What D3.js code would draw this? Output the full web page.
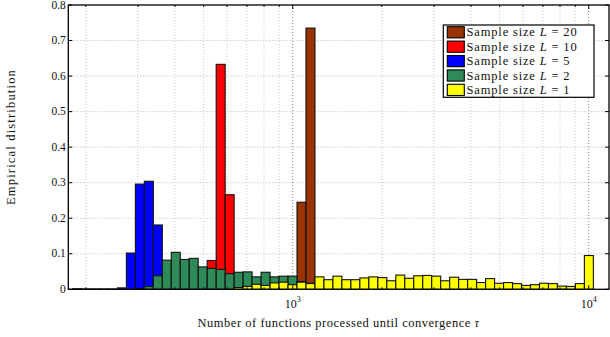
<!DOCTYPE html>
<html><head><meta charset="utf-8">
<script src="https://cdn.jsdelivr.net/npm/d3@7"></script>
<style>
body{margin:0;background:#fff;}
svg{display:block;}
text{font-family:"Liberation Serif","DejaVu Serif",serif;}
</style>
</head><body>
<svg id="chart" width="610" height="337"></svg>
<script>
// ---- data ----
// histogram bins: equal width in log10 space
const binFirstEdge = 180.3;
const binLogWidth = 0.03034;

const sampleSizes = [20, 10, 5, 2, 1];
const seriesColors = ["#993300", "#ff0000", "#0000ff", "#2e8b57", "#ffff00"];

const valsL20 = [
  0,0,0,0,0,0,0,0,0,0,
  0,0,0,0,0,0,0,0,0,0,
  0,0,0,0,0,0.245,0.735,0,0,0,
  0,0,0,0,0,0,0,0,0,0,
  0,0,0,0,0,0,0,0,0,0,
  0,0,0,0,0,0,0,0];
const valsL10 = [
  0,0,0,0,0,0,0,0,0,0,
  0,0,0,0,0,0.081,0.633,0.266,0,0,
  0,0,0,0,0,0,0,0,0,0,
  0,0,0,0,0,0,0,0,0,0,
  0,0,0,0,0,0,0,0,0,0,
  0,0,0,0,0,0,0,0];
const valsL5 = [
  0.001,0.001,0.001,0.001,0.001,0.004,0.102,0.296,0.304,0.181,
  0,0,0,0,0,0,0,0,0,0,
  0,0,0,0,0,0,0,0,0,0,
  0,0,0,0,0,0,0,0,0,0,
  0,0,0,0,0,0,0,0,0,0,
  0,0,0,0,0,0,0,0];
const valsL2 = [
  0,0,0,0,0,0,0,0.002,0.008,0.038,
  0.082,0.104,0.084,0.087,0.063,0.059,0.056,0.044,0.048,0.049,
  0.035,0.048,0.035,0.037,0.037,0.022,0.017,0,0,0,
  0,0,0,0,0,0,0,0,0,0,
  0,0,0,0,0,0,0,0,0,0,
  0,0,0,0,0,0,0,0];
const valsL1 = [
  0.001,0,0,0,0,0,0,0,0,0,
  0,0,0,0,0,0,0,0,0.005,0.008,
  0.014,0.011,0.018,0.020,0.013,0.020,0.016,0.035,0.027,0.037,
  0.027,0.027,0.032,0.035,0.033,0.024,0.040,0.031,0.038,0.039,
  0.037,0.024,0.034,0.028,0.028,0.019,0.030,0.017,0.019,0.016,
  0.011,0.013,0.017,0.016,0.009,0.008,0.016,0.095];

const yTicks = [0, 0.1, 0.2, 0.3, 0.4, 0.5, 0.6, 0.7, 0.8];
const yTickLabels = ["0", "0.1", "0.2", "0.3", "0.4", "0.5", "0.6", "0.7", "0.8"];
const xMajorTicks = [1000, 10000];
const xMajorExponents = ["3", "4"];
const xMinorTicks = [200, 300, 400, 500, 600, 700, 800, 900, 2000, 3000, 4000, 5000, 6000, 7000, 8000, 9000];
const xDomain = [174.5, 11710];
const yDomain = [0, 0.8];
const xLabel = "Number of functions processed until convergence ";
const xLabelSymbol = "τ";
const yLabel = "Empirical distribution";

// ---- layout ----
const L = 68.3, R = 609, T = 5, B = 289.3;
const FONT = "Liberation Serif, DejaVu Serif, serif";
const svg = d3.select("#chart");
const x = d3.scaleLog().domain(xDomain).range([L, R]);
const y = d3.scaleLinear().domain(yDomain).range([B, T]);

// widen a text via letter-spacing so its rendered width matches a target width
function fitSpacing(sel, target) {
  const w = sel.node().getComputedTextLength();
  const n = sel.text().length;
  const ls = n > 1 ? (target - w) / n : 0;
  sel.attr("letter-spacing", ls);
  return ls;
}

// grid
const grid = svg.append("g");
grid.selectAll("line.ym").data(yTicks.filter(v => v > 0 && v < 0.8)).join("line")
  .attr("x1", L).attr("x2", R).attr("y1", d => y(d)).attr("y2", d => y(d))
  .attr("stroke", "#b8b8b8").attr("stroke-width", 1).attr("stroke-dasharray", "1,2");
grid.selectAll("line.xm").data(xMinorTicks).join("line")
  .attr("x1", d => x(d)).attr("x2", d => x(d)).attr("y1", T).attr("y2", B)
  .attr("stroke", "#c8c8c8").attr("stroke-width", 1).attr("stroke-dasharray", "1,2");
grid.selectAll("line.xM").data(xMajorTicks).join("line")
  .attr("x1", d => x(d)).attr("x2", d => x(d)).attr("y1", T).attr("y2", B)
  .attr("stroke", "#888").attr("stroke-width", 1).attr("stroke-dasharray", "1,2");

// bars
const allSeries = [valsL20, valsL10, valsL5, valsL2, valsL1];
const edge = i => binFirstEdge * Math.pow(10, i * binLogWidth);
allSeries.forEach((vals, si) => {
  const data = vals.map((v, i) => ({v, i})).filter(d => d.v > 0);
  svg.append("g").selectAll("rect").data(data).join("rect")
    .attr("x", d => x(edge(d.i)))
    .attr("width", d => x(edge(d.i + 1)) - x(edge(d.i)))
    .attr("y", d => y(d.v))
    .attr("height", d => y(0) - y(d.v))
    .attr("fill", seriesColors[si])
    .attr("stroke", "#111").attr("stroke-width", 1.1);
});

// frame
svg.append("rect").attr("x", L).attr("y", T).attr("width", R - L).attr("height", B - T)
  .attr("fill", "none").attr("stroke", "#000").attr("stroke-width", 1.3);

// ticks (inward)
const tk = svg.append("g").attr("stroke", "#000").attr("stroke-width", 1);
yTicks.forEach(v => {
  tk.append("line").attr("x1", L).attr("x2", L + 4).attr("y1", y(v)).attr("y2", y(v));
  tk.append("line").attr("x1", R).attr("x2", R - 4).attr("y1", y(v)).attr("y2", y(v));
});
xMajorTicks.forEach(v => {
  tk.append("line").attr("x1", x(v)).attr("x2", x(v)).attr("y1", B).attr("y2", B - 4);
  tk.append("line").attr("x1", x(v)).attr("x2", x(v)).attr("y1", T).attr("y2", T + 4);
});
xMinorTicks.forEach(v => {
  tk.append("line").attr("x1", x(v)).attr("x2", x(v)).attr("y1", B).attr("y2", B - 2);
  tk.append("line").attr("x1", x(v)).attr("x2", x(v)).attr("y1", T).attr("y2", T + 2);
});

// tick labels
svg.append("g").selectAll("text").data(yTicks).join("text")
  .attr("font-family", FONT)
  .attr("x", L - 2.5).attr("y", d => y(d) + 3.7)
  .attr("text-anchor", "end").attr("font-size", "11.5px").attr("fill", "#111")
  .text((d, i) => yTickLabels[i]);
xMajorTicks.forEach((v, i) => {
  const t = svg.append("text").attr("font-family", FONT).attr("x", x(v) - 8).attr("y", 308)
    .attr("font-size", "12px").attr("fill", "#111");
  t.append("tspan").text("10");
  t.append("tspan").attr("dy", -6).attr("font-size", "8px").text(xMajorExponents[i]);
});

// axis labels
const xl = svg.append("text").attr("font-family", FONT).attr("x", 338.5).attr("y", 327)
  .attr("text-anchor", "middle").attr("font-size", "12.5px").attr("fill", "#111");
xl.append("tspan").text(xLabel);
xl.append("tspan").attr("font-style", "italic").text(xLabelSymbol);
fitSpacing(xl, 282);
const yl = svg.append("text").attr("font-family", FONT).attr("transform", "translate(15,137) rotate(-90)")
  .attr("text-anchor", "middle").attr("font-size", "12.5px").attr("fill", "#111").text(yLabel);
fitSpacing(yl, 136);

// legend
const lg = svg.append("g");
lg.append("rect").attr("x", 443.3).attr("y", 25).attr("width", 150.7).attr("height", 72.3)
  .attr("fill", "#fff").attr("stroke", "#000").attr("stroke-width", 1.2);
let legendLs = null;
sampleSizes.forEach((s, i) => {
  const cy = 32.3 + i * 14.4;
  lg.append("rect").attr("x", 447.3).attr("y", cy - 5.6).attr("width", 17).attr("height", 11.2)
    .attr("fill", seriesColors[i]).attr("stroke", "#000").attr("stroke-width", 1.1);
  const t = lg.append("text").attr("font-family", FONT).attr("x", 466.5).attr("y", cy + 4)
    .attr("font-size", "12.5px").attr("fill", "#111");
  t.append("tspan").text("Sample size ");
  t.append("tspan").attr("font-style", "italic").text("L");
  t.append("tspan").text(" = " + s);
  if (legendLs === null) legendLs = fitSpacing(t, 111);
  else t.attr("letter-spacing", legendLs);
});
</script>
</body></html>
